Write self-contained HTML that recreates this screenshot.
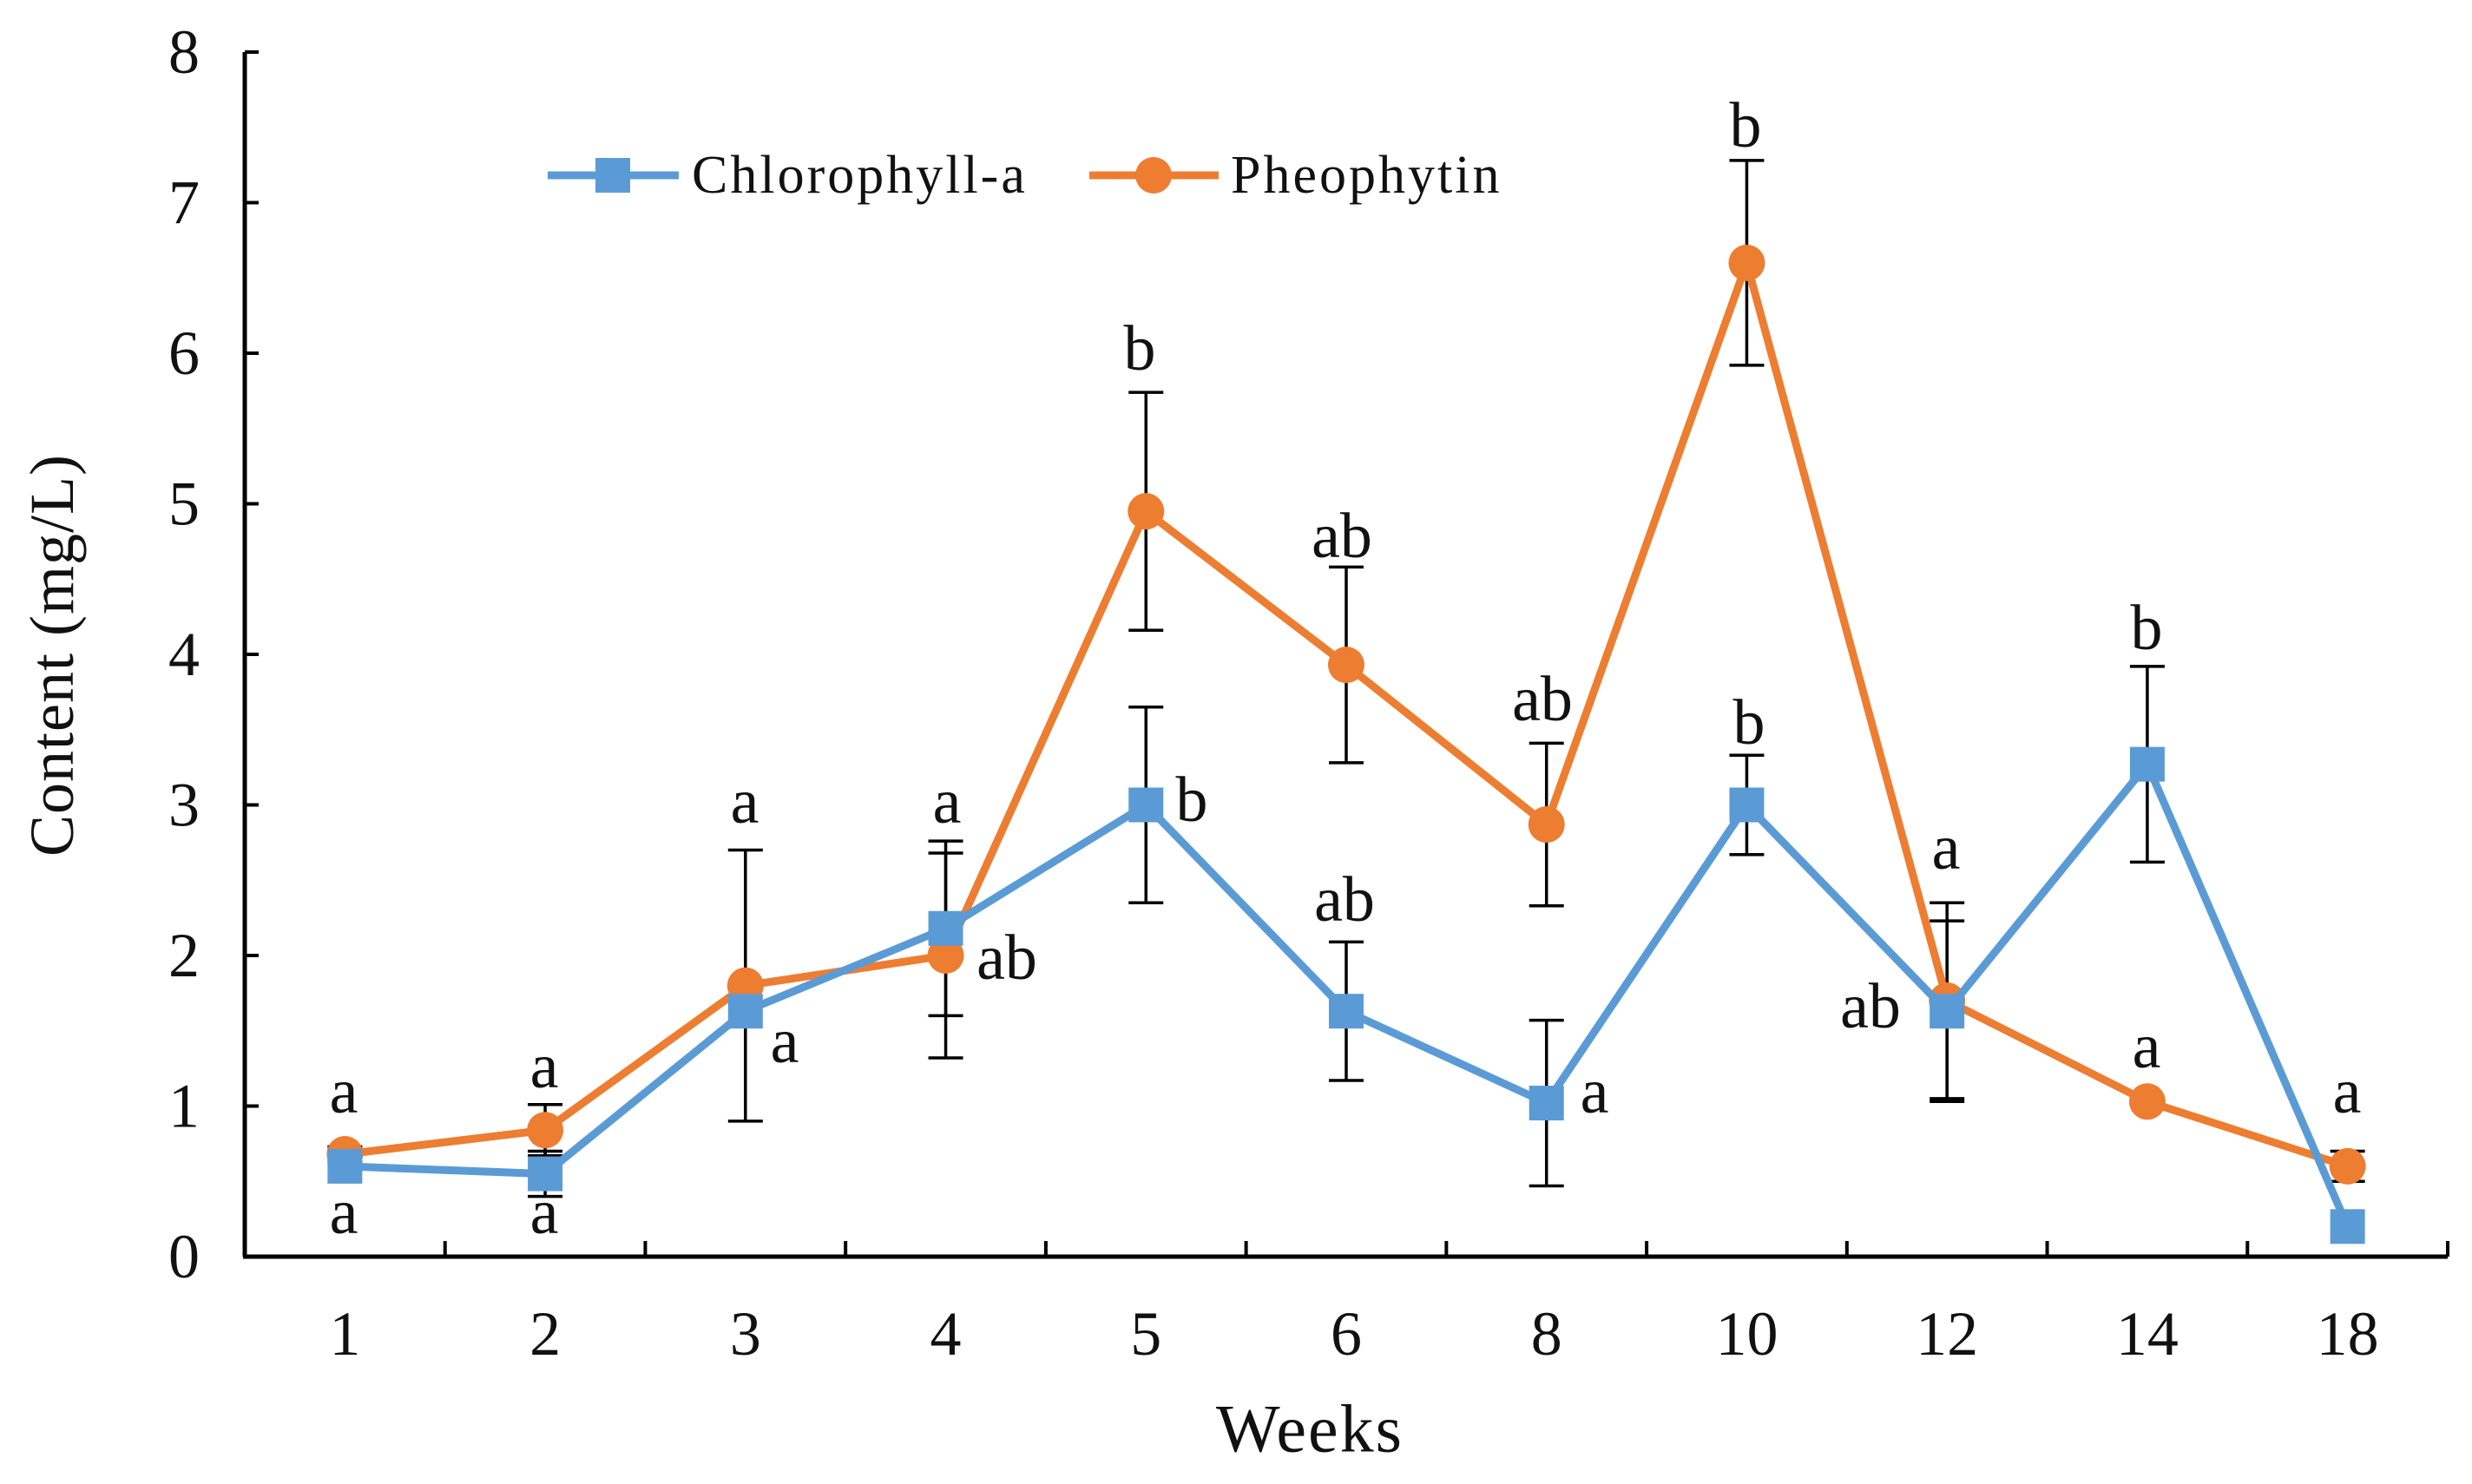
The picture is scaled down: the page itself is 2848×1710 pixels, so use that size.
<!DOCTYPE html>
<html><head><meta charset="utf-8"><style>
html,body{margin:0;padding:0;background:#fff;}
svg{display:block;font-family:"Liberation Serif",serif;}
</style></head><body>
<svg id="chart" width="2848" height="1710" viewBox="0 0 2848 1710" xmlns="http://www.w3.org/2000/svg">
<rect width="2848" height="1710" fill="#fff"/>
<g id="axes"></g><g id="errs"></g><g id="lines"></g><g id="ann"></g>
<g id="legend">
 <g>
  <line x1="631" y1="202" x2="782" y2="202" stroke="#5B9BD5" stroke-width="9"/>
  <rect x="686" y="182" width="40" height="40" fill="#5B9BD5"/>
  <text x="797" y="202" font-size="62" letter-spacing="3" dominant-baseline="central" fill="#111">Chlorophyll-a</text>
 </g>
 <g>
  <line x1="1255" y1="202" x2="1404" y2="202" stroke="#ED7D31" stroke-width="9"/>
  <circle cx="1329" cy="202" r="21" fill="#ED7D31"/>
  <text x="1418" y="202" font-size="62" letter-spacing="3" dominant-baseline="central" fill="#111">Pheophytin</text>
 </g>
</g>
<text x="0" y="0" font-size="72" letter-spacing="1" text-anchor="middle" dominant-baseline="central" transform="translate(60,755) rotate(-90)" fill="#111">Content (mg/L)</text>
<text x="1509" y="1646" font-size="78" letter-spacing="2" text-anchor="middle" dominant-baseline="central" fill="#111">Weeks</text>
</svg>
<script>
const categories = ["1","2","3","4","5","6","8","10","12","14","18"];
const chlValues = [0.6,0.55,1.63,2.18,3.0,1.63,1.02,3.0,1.63,3.27,0.2];
const chlErrors = [0,0.15,0,0.58,0.65,0.46,0.55,0.33,0.6,0.65,0];
const pheoValues = [0.68,0.84,1.8,2.0,4.95,3.93,2.87,6.6,1.7,1.03,0.6];
const pheoErrors = [0.05,0.17,0.9,0.68,0.79,0.65,0.54,0.68,0.65,0,0.1];
const yTicks = [0,1,2,3,4,5,6,7,8];
const annotations = [
 ["a",396,1258],["a",396,1397],["a",627,1229],["a",627,1397],
 ["a",858,924],["a",904,1200],["a",1091,924],["ab",1160,1104],
 ["b",1313,402],["b",1373,922],["ab",1546,618],["ab",1549,1037],
 ["ab",1777,806],["a",1837,1258],["b",2011,145],["b",2015,833],
 ["a",2242,977],["ab",2155,1160],["b",2473,724],["a",2473,1206],["a",2704,1258]
];
const NS="http://www.w3.org/2000/svg";
const X0=282,X1=2820,Y0=1448,Y8=60;
const band=(X1-X0)/categories.length;
const xs=i=>X0+band*(i+0.5);
const ys=v=>Y0-(Y0-Y8)*v/8;
function mk(tag,attrs,parent){const e=document.createElementNS(NS,tag);for(const k in attrs)e.setAttribute(k,attrs[k]);parent.appendChild(e);return e;}
const axes=document.getElementById('axes');
let e=mk('line',{x1:X0,y1:Y8,x2:X0,y2:Y0,stroke:'#000','stroke-width':5},axes);


e=mk('line',{x1:X0-2,y1:Y0,x2:X1,y2:Y0,stroke:'#000','stroke-width':5},axes);


yTicks.forEach(t=>{
 mk('line',{x1:X0,y1:ys(t),x2:X0+16,y2:ys(t),stroke:'#000','stroke-width':4},axes);
 const tx=mk('text',{x:X0-52,y:ys(t),'font-size':72,'text-anchor':'end','dominant-baseline':'central',fill:'#111'},axes);
 tx.textContent=t;
 
 
});
for(let i=1;i<=categories.length;i++){
 const x=X0+band*i;
 mk('line',{x1:x,y1:Y0,x2:x,y2:Y0-18,stroke:'#000','stroke-width':4},axes);
}
categories.forEach((c,i)=>{
 const tx=mk('text',{x:xs(i),y:1537,'font-size':72,'text-anchor':'middle','dominant-baseline':'central',fill:'#111'},axes);
 tx.textContent=c;
 
 
});
const errs=document.getElementById('errs');
function errBars(vals,errsArr,name){
 vals.forEach((v,i)=>{
  const er=errsArr[i]; if(!er) return;
  const g=mk('g',{stroke:'#000','stroke-width':3.5},errs);
  
  
  const x=xs(i);
  mk('line',{x1:x,y1:ys(v+er),x2:x,y2:ys(v-er)},g);
  mk('line',{x1:x-20,y1:ys(v+er),x2:x+20,y2:ys(v+er)},g);
  mk('line',{x1:x-20,y1:ys(v-er),x2:x+20,y2:ys(v-er)},g);
 });
}
errBars(chlValues,chlErrors,'chlorophyll');
errBars(pheoValues,pheoErrors,'pheophytin');
const lines=document.getElementById('lines');
function series(vals,color,name,square){
 const p=mk('polyline',{points:vals.map((v,i)=>xs(i)+','+ys(v)).join(' '),fill:'none',stroke:color,'stroke-width':9,'stroke-linejoin':'round'},lines);
 
 
 vals.forEach((v,i)=>{
  let m;
  if(square) m=mk('rect',{x:xs(i)-20,y:ys(v)-20,width:40,height:40,fill:color},lines);
  else m=mk('circle',{cx:xs(i),cy:ys(v),r:21,fill:color},lines);
  
  
 });
}
series(pheoValues,'#ED7D31','pheophytin',false);
series(chlValues,'#5B9BD5','chlorophyll',true);
const ann=document.getElementById('ann');
annotations.forEach(a=>{
 const t=mk('text',{x:a[1],y:a[2],'font-size':74,'text-anchor':'middle','dominant-baseline':'central',fill:'#111'},ann);
 t.textContent=a[0];
 
 
});
</script>
</body></html>
